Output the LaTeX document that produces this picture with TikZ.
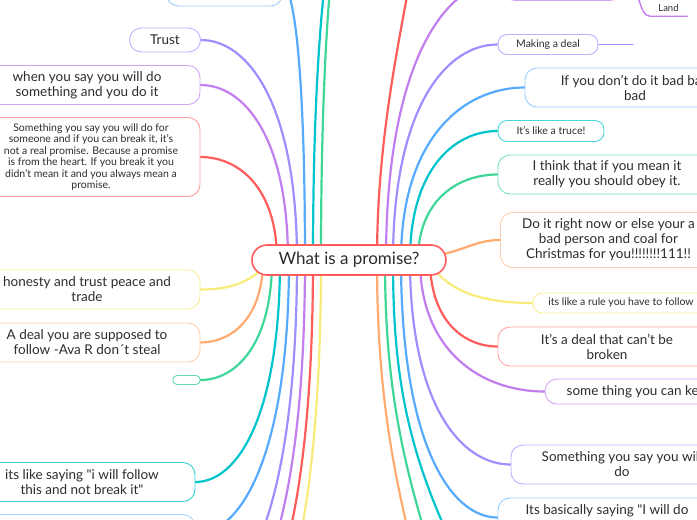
\documentclass[tikz,border=0pt]{standalone}
\usepackage{fontspec}
\setmainfont{Lato}[Ligatures=TeXOff]
\usetikzlibrary{calc,backgrounds}

\definecolor{mred}{HTML}{FF5C5C}
\definecolor{mpurple}{HTML}{C27DEF}
\definecolor{mlav}{HTML}{9C90FF}
\definecolor{mblue}{HTML}{56ABFF}
\definecolor{mteal}{HTML}{00C4CB}
\definecolor{mgreen}{HTML}{3FD69A}
\definecolor{morange}{HTML}{FFAA70}
\definecolor{myellow}{HTML}{F7EC7A}
\definecolor{mtext}{HTML}{2D2D2D}

\tikzset{
  idea/.style={draw, fill=white, rounded corners=12pt, line width=0.9pt,
    align=center, text=mtext, inner sep=1pt,
    font=\fontsize{13.5}{15}\selectfont},
  smallidea/.style={idea, rounded corners=9pt,
    font=\fontsize{10.5}{11.5}\selectfont},
  branch/.style={line width=2.2pt, line cap=round,
    to path={.. controls ($(\tikztostart)!0.7!(\tikztostart|-\tikztotarget)$)
      and ($(\tikztotarget)!0.5!(\tikztostart|-\tikztotarget)$) .. (\tikztotarget)}},
  twig/.style={line width=1.4pt, line cap=round}
}

\begin{document}
\begin{tikzpicture}[x=1pt, y=-1pt]
    \useasboundingbox (0,0) rectangle (697,520);

    % Draw the central topic
    \node[idea, draw=mred, line width=1.6pt, rounded corners=15pt,
      minimum width=194pt, minimum height=30pt,
      font=\fontsize{17}{19}\selectfont] (root) at (349,260) {What is a promise?};

    % Draw ideas on the left
    \node[idea, draw=mblue!60, minimum width=116pt, minimum height=39pt] (lefttop) at (224.5,-13.5) {};
    \node[idea, draw=mlav!70, minimum width=71pt, minimum height=24pt] (trust) at (165,40) {Trust};
    \node[idea, draw=mpurple!70, minimum width=226pt, minimum height=39pt] (sayanddo) at (87,85) {when you say you will do\\something and you do it};
    \node[smallidea, draw=mred!60, rounded corners=12pt, minimum width=218pt, minimum height=79pt] (fromheart) at (91,157) {Something you say you will do for\\someone and if you can break it, it’s\\not a real promise. Because a promise\\is from the heart. If you break it you\\didn’t mean it and you always mean a\\promise.};
    \node[idea, draw=myellow!80, minimum width=226pt, minimum height=39pt] (honesty) at (87,289.5) {honesty and trust peace and\\trade};
    \node[idea, draw=morange!60, minimum width=226pt, minimum height=39pt] (avar) at (87,342.5) {A deal you are supposed to\\follow -Ava R don´t steal};
    \node[idea, draw=mgreen!80, rounded corners=4pt, minimum width=27pt, minimum height=9pt, inner sep=0pt] (blank) at (186.5,380) {};
    \node[idea, draw=mteal!80, minimum width=226pt, minimum height=39pt] (follow) at (82,482) {its like saying "i will follow\\this and not break it"};
    \node[idea, draw=mblue!50, minimum width=226pt, minimum height=39pt] (leftlow) at (82,534) {};

    % Draw ideas on the right
    \node[idea, draw=mpurple!70, minimum width=119pt, minimum height=39pt] (topdeal) at (562.5,-19) {};
    \node[font=\fontsize{9.5}{11}\selectfont, text=mtext, inner sep=0pt, minimum width=37pt, minimum height=15pt] (land) at (668.5,8.5) {Land};
    \node[smallidea, draw=mlav!70, minimum width=100pt, minimum height=20pt] (making) at (548,44.5) {Making a deal};
    \node[idea, draw=mblue!60, minimum width=220pt, minimum height=39pt] (badbad) at (635,87.5) {If you don’t do it bad bad\\bad};
    \node[smallidea, draw=mteal!70, minimum width=106pt, minimum height=21pt] (truce) at (551,131) {It’s like a truce!};
    \node[idea, draw=mgreen!70, minimum width=218pt, minimum height=39pt] (meanit) at (607,174.5) {I think that if you mean it\\really you should obey it.};
    \node[idea, draw=morange!60, minimum width=216pt, minimum height=55pt] (coal) at (608.5,240) {Do it right now or else your a\\bad person and coal for\\Christmas for you!!!!!!!!111!!};
    \node[smallidea, draw=myellow!80, minimum width=176pt, minimum height=20pt] (rule) at (621,303) {its like a rule you have to follow};
    \node[idea, draw=mred!55, minimum width=218pt, minimum height=39pt] (broken) at (607,346.5) {It’s a deal that can’t be\\broken};
    \node[idea, draw=mpurple!70, minimum width=190pt, minimum height=25pt] (keep) at (640,391.5) {some thing you can keep};
    \node[idea, draw=mlav!70, minimum width=222pt, minimum height=39pt] (saywill) at (622,464.5) {Something you say you will\\do};
    \node[idea, draw=mblue!60, minimum width=218pt, minimum height=39pt, text depth=16pt] (basically) at (607,517.5) {Its basically saying "I will do};

    % Points where the branches leave the central topic
    \foreach \x [count=\i] in {277,288,297,305,313,321} \coordinate (lu\i) at (\x,260);
    \foreach \x [count=\i] in {377,386,393,401,410,418} \coordinate (ru\i) at (\x,260);
    \foreach \x [count=\i] in {263,272,280,289,297,305,313,321} \coordinate (ld\i) at (\x,260);
    \foreach \x [count=\i] in {377,385,393,401,410,420,430} \coordinate (rd\i) at (\x,260);
    \coordinate (lyellow) at (268,262);
    \coordinate (ryellow) at (430,262);
    \coordinate (rorange) at (420,256);

    % Loose ends of branches that run off the page
    \coordinate (tealup) at (365,-150);
    \coordinate (greenup) at (368,-170);
    \coordinate (redup) at (412,-30);
    \coordinate (lavdown) at (200,600);
    \coordinate (purpledown) at (215,620);
    \coordinate (reddown) at (225,640);
    \coordinate (yellowdown) at (235,660);
    \coordinate (orangedown) at (420,580);
    \coordinate (greendown) at (440,580);
    \coordinate (tealdown) at (460,560);
    \coordinate (makingend) at (633,44.5);

    \begin{scope}[on background layer]
      \fill[white] (0,0) rectangle (697,520);

      % Draw branches on the left
      \draw[branch, mred] (lu1) to (fromheart.east);
      \draw[branch, mpurple] (lu2) to (sayanddo.east);
      \draw[branch, mlav] (lu3) to (trust.east);
      \draw[branch, mblue] (lu4) to (lefttop.east);
      \draw[branch, mteal] (lu5) to (tealup);
      \draw[branch, mgreen] (lu6) to (greenup);
      \draw[branch, myellow] (lyellow) .. controls (250,285) and (225,289.5) .. (honesty.east);
      \draw[branch, morange] (ld1) to (avar.east);
      \draw[branch, mgreen] (ld2) to (blank.east);
      \draw[branch, mteal] (ld3) to (follow.east);
      \draw[branch, mblue] (ld4) to (leftlow.east);
      \draw[branch, mlav] (ld5) to (lavdown);
      \draw[branch, mpurple] (ld6) to (purpledown);
      \draw[branch, mred] (ld7) to (reddown);
      \draw[branch, myellow] (ld8) to (yellowdown);

      % Draw branches on the right
      \draw[branch, mred] (ru1) .. controls (377,150) and (395,60) .. (redup);
      \draw[branch, mpurple] (ru2) to (topdeal.west);
      \draw[branch, mlav] (ru3) to (making.west);
      \draw[branch, mblue] (ru4) to (badbad.west);
      \draw[branch, mteal] (ru5) to (truce.west);
      \draw[branch, mgreen] (ru6) to (meanit.west);
      \draw[branch, morange] (rorange) .. controls (460,256) and (470,240) .. (coal.west);
      \draw[branch, myellow] (ryellow) .. controls (445,290) and (480,303) .. (rule.west);
      \draw[branch, mred] (rd7) to (broken.west);
      \draw[branch, mpurple] (rd6) to (keep.west);
      \draw[branch, mlav] (rd5) to (saywill.west);
      \draw[branch, mblue] (rd4) to (basically.west);
      \draw[branch, mteal] (rd3) .. controls (393,370) and (405,450) .. (tealdown);
      \draw[branch, mgreen] (rd2) .. controls (385,380) and (400,460) .. (greendown);
      \draw[branch, morange] (rd1) .. controls (377,400) and (395,480) .. (orangedown);

      % Draw the sub branches
      \draw[twig, mpurple] (topdeal.east) .. controls +(18,0) and +(-12,0) .. (land.south west) -- (land.south east);
      \draw[twig, mlav] (making.east) -- (makingend);
    \end{scope}
\end{tikzpicture}
\end{document}
